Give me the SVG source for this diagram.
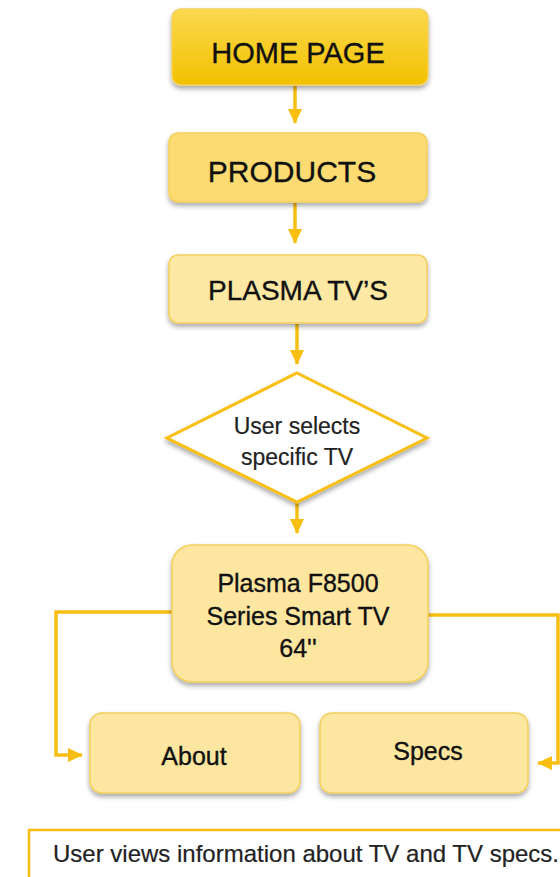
<svg xmlns="http://www.w3.org/2000/svg" width="560" height="877" viewBox="0 0 560 877">
<style>
  .t { font-family: "Liberation Sans", Arial, sans-serif; fill: #111; stroke: #111; stroke-width: 0.35; text-anchor: middle; }
  .conn { fill: none; stroke: #f8bf12; stroke-width: 3.5; }
  .box { stroke: #f3cf5c; stroke-width: 1.5; filter: url(#sh); }
</style>
<defs>
  <linearGradient id="gHome" x1="0" y1="0" x2="0" y2="1">
    <stop offset="0" stop-color="#fbd94f"/>
    <stop offset="1" stop-color="#f2c100"/>
  </linearGradient>
  <filter id="sh" x="-10%" y="-10%" width="120%" height="130%">
    <feDropShadow dx="0" dy="3" stdDeviation="2.5" flood-color="#000" flood-opacity="0.35"/>
  </filter>
  <marker id="ah" markerWidth="15" markerHeight="14" refX="14" refY="7" orient="auto" markerUnits="userSpaceOnUse">
    <path d="M0,0 L15,7 L0,14 Z" fill="#f8bf12"/>
  </marker>
</defs>
<rect width="560" height="877" fill="#fff"/>

<g id="connectors">
  <path class="conn" d="M295,86 V123" marker-end="url(#ah)"/>
  <path class="conn" d="M295,203 V243" marker-end="url(#ah)"/>
  <path class="conn" d="M297,324 V364" marker-end="url(#ah)"/>
  <path class="conn" d="M297,502 V533" marker-end="url(#ah)"/>
  <path class="conn" d="M172,612 H56 V755 H82" marker-end="url(#ah)"/>
  <path class="conn" d="M428,615 H558 V763 H538" marker-end="url(#ah)"/>
</g>

<g id="home">
  <rect class="box" x="172" y="9" width="256" height="76" rx="9" fill="url(#gHome)" stroke="#f0c000"/>
  <text class="t" x="298" y="63" font-size="29">HOME PAGE</text>
</g>
<g id="products">
  <rect class="box" x="169" y="133" width="258" height="69" rx="9" fill="#fcdc72"/>
  <text class="t" x="292" y="182" font-size="30">PRODUCTS</text>
</g>
<g id="plasma">
  <rect class="box" x="169" y="255" width="258" height="68" rx="9" fill="#fde9a4"/>
  <text class="t" x="298" y="300" font-size="28">PLASMA TV’S</text>
</g>
<g id="decision">
  <path d="M297,373 L427,438 L297,502 L167,438 Z" fill="#fff" stroke="#f8bf12" stroke-width="3" filter="url(#sh)"/>
  <text class="t" x="297" y="434" font-size="23" style="fill:#222;stroke:#222;stroke-width:0.2">User selects</text>
  <text class="t" x="297" y="465" font-size="23" style="fill:#222;stroke:#222;stroke-width:0.2">specific TV</text>
</g>
<g id="tv">
  <rect class="box" x="172" y="545" width="256" height="137" rx="20" fill="#fde7a0"/>
  <text class="t" x="298" y="592" font-size="25">Plasma F8500</text>
  <text class="t" x="298" y="625" font-size="25">Series Smart TV</text>
  <text class="t" x="298" y="657" font-size="25">64''</text>
</g>
<g id="about">
  <rect class="box" x="90" y="713" width="210" height="80" rx="12" fill="#fde7a0"/>
  <text class="t" x="194" y="765" font-size="25">About</text>
</g>
<g id="specs">
  <rect class="box" x="320" y="713" width="208" height="80" rx="12" fill="#fde7a0"/>
  <text class="t" x="428" y="760" font-size="25">Specs</text>
</g>
<g id="note">
  <rect x="29" y="830" width="560" height="60" fill="#fff" stroke="#f8bf12" stroke-width="2.5"/>
  <text x="53" y="862" font-size="24" font-family="Liberation Sans, Arial, sans-serif" fill="#222" stroke="#222" stroke-width="0.2">User views information about TV and TV specs.</text>
</g>
</svg>
